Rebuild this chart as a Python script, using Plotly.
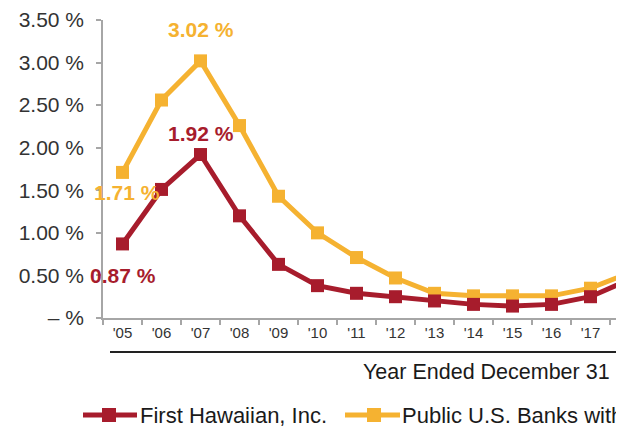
import plotly.graph_objects as go

years = ["'05", "'06", "'07", "'08", "'09", "'10", "'11", "'12", "'13", "'14", "'15", "'16", "'17", "'18"]
first_hawaiian = [0.87, 1.51, 1.92, 1.20, 0.63, 0.38, 0.29, 0.25, 0.20, 0.16, 0.14, 0.16, 0.25, 0.45]
public_banks = [1.71, 2.56, 3.02, 2.26, 1.43, 1.00, 0.71, 0.47, 0.29, 0.26, 0.26, 0.26, 0.35, 0.53]
y_ticks = [0, 0.5, 1.0, 1.5, 2.0, 2.5, 3.0, 3.5]
y_ticktext = ["– %", "0.50 %", "1.00 %", "1.50 %", "2.00 %", "2.50 %", "3.00 %", "3.50 %"]
series_names = ["First Hawaiian, Inc.", "Public U.S. Banks with $10 – $50 Billion in Assets"]
x_title = "Year Ended December 31"

RED = "#A71C2C"
YEL = "#F5B231"
FONT = "Liberation Sans, Arial, sans-serif"

OFF = 8  # page body margin
W, H = 616, 422
L, T, B = 95, 12, 112
PW, PH = W - L, H - T - B
X0 = L + OFF          # screen x of the y axis
Y0 = T + PH + OFF     # screen y of the x axis

def px(x):
    return (x - X0) / PW

def py(y):
    return (Y0 - y) / PH

idx = list(range(len(years)))

fig = go.Figure()
fig.add_trace(go.Scatter(x=idx, y=public_banks, mode="lines+markers",
                         line=dict(color=YEL, width=5),
                         marker=dict(symbol="square", size=13, color=YEL),
                         name=series_names[1], showlegend=False))
fig.add_trace(go.Scatter(x=idx, y=first_hawaiian, mode="lines+markers",
                         line=dict(color=RED, width=5),
                         marker=dict(symbol="square", size=13, color=RED),
                         name=series_names[0], showlegend=False))

def pct(v):
    return f"{v:.2f} %"

lab_font = dict(family=FONT, size=21)
anns = [
    dict(x=2, y=public_banks[2], text="<b>%s</b>" % pct(public_banks[2]), yshift=31, font=dict(color=YEL, **lab_font)),
    dict(x=2, y=first_hawaiian[2], text="<b>%s</b>" % pct(first_hawaiian[2]), yshift=21, font=dict(color=RED, **lab_font)),
    dict(x=0, y=public_banks[0], text="<b>%s</b>" % pct(public_banks[0]), yshift=-20, xshift=4, font=dict(color=YEL, **lab_font)),
    dict(x=0, y=first_hawaiian[0], text="<b>%s</b>" % pct(first_hawaiian[0]), yshift=-32, xshift=0, font=dict(color=RED, **lab_font)),
]
for a in anns:
    a.update(xref="x", yref="y", showarrow=False, xanchor="center", yanchor="middle")

anns.append(dict(xref="paper", yref="paper", x=px(361), y=py(372), text=x_title, showarrow=False,
                 xanchor="left", yanchor="middle", font=dict(family=FONT, size=21.5, color="#1a1a1a")))
# legend texts
leg_font = dict(family=FONT, size=22, color="#1a1a1a")
anns.append(dict(xref="paper", yref="paper", x=px(138), y=py(415), text=series_names[0], showarrow=False,
                 xanchor="left", yanchor="middle", font=leg_font))
anns.append(dict(xref="paper", yref="paper", x=px(400), y=py(415), text=series_names[1], showarrow=False,
                 xanchor="left", yanchor="middle", font=leg_font))

shapes = [
    dict(type="line", xref="paper", yref="paper", x0=px(110), x1=px(700), y0=py(352), y1=py(352),
         line=dict(color="#222", width=2)),
    # legend lines + markers
    dict(type="line", xref="paper", yref="paper", x0=px(83), x1=px(137), y0=py(415), y1=py(415),
         line=dict(color=RED, width=5)),
    dict(type="rect", xref="paper", yref="paper", x0=px(102), x1=px(116), y0=py(408), y1=py(422),
         line=dict(width=0), fillcolor=RED),
    dict(type="line", xref="paper", yref="paper", x0=px(345), x1=px(400), y0=py(415), y1=py(415),
         line=dict(color=YEL, width=5)),
    dict(type="rect", xref="paper", yref="paper", x0=px(367), x1=px(381), y0=py(408), y1=py(422),
         line=dict(width=0), fillcolor=YEL),
]

fig.update_layout(
    width=W, height=H,
    margin=dict(l=L, r=0, t=T, b=B, pad=0),
    plot_bgcolor="white", paper_bgcolor="white",
    annotations=anns, shapes=shapes,
    showlegend=False,
    xaxis=dict(range=[-0.5, PW / 39 - 0.5], tickvals=idx, ticktext=years, ticks="",
               showgrid=False, zeroline=False, showline=True, linecolor="#A6A6A6", linewidth=1.5,
               tickfont=dict(family=FONT, size=15, color="#333"),
               minor=dict(tick0=-0.5, dtick=1, ticks="outside", ticklen=5, tickcolor="#A6A6A6", tickwidth=1.5),
               fixedrange=True),
    yaxis=dict(range=[0, 3.5], tickvals=y_ticks, ticktext=y_ticktext, ticks="outside", ticklen=5,
               tickcolor="#A6A6A6", tickwidth=1.5, showgrid=False, zeroline=False, showline=True,
               linecolor="#A6A6A6", linewidth=1.5, ticklabelstandoff=8,
               tickfont=dict(family=FONT, size=21, color="#333")),
)

fig.write_html("out.html")
